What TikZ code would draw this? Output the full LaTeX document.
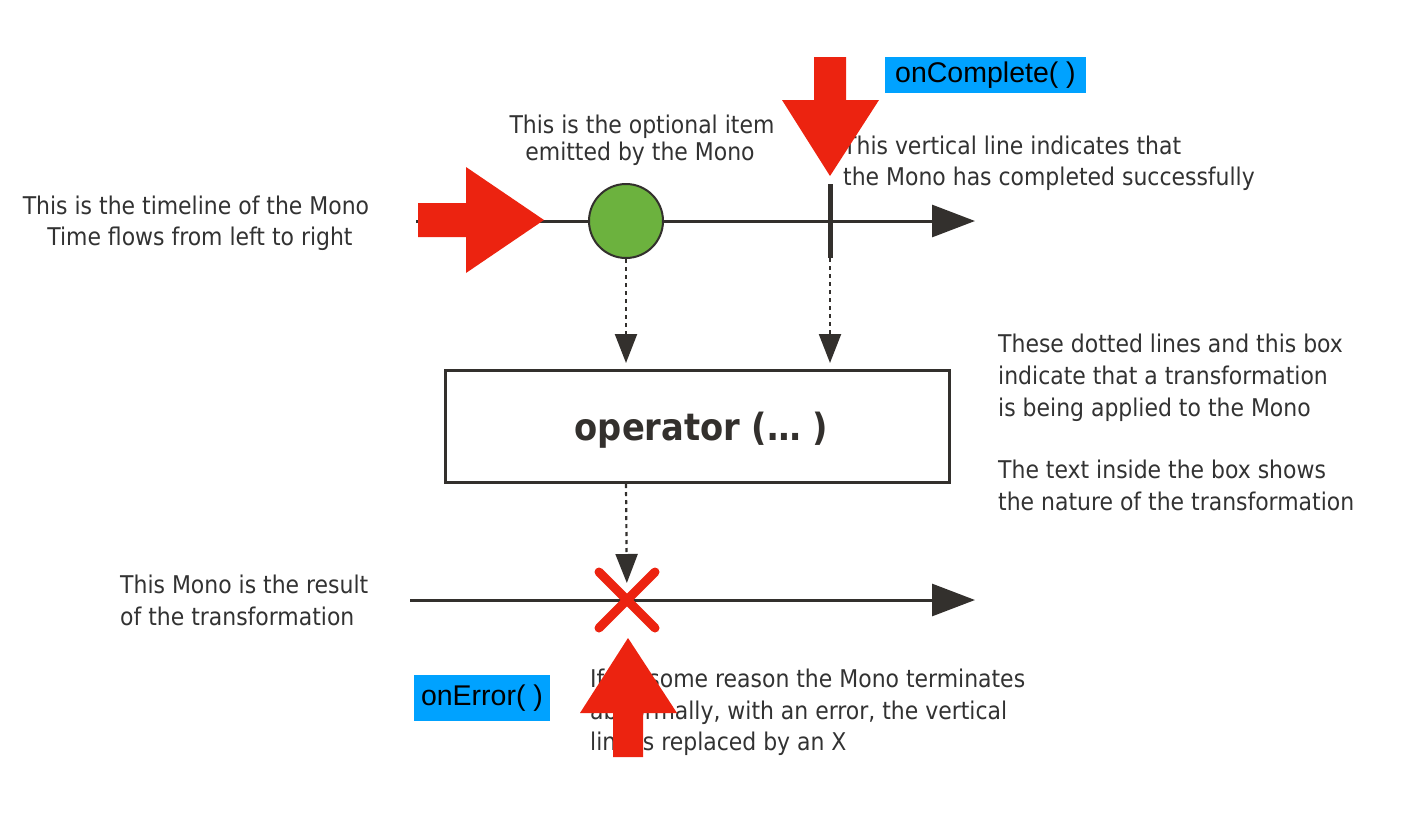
\documentclass[tikz,border=0pt]{standalone}
\usepackage{fontspec}
\usetikzlibrary{arrows.meta}
\newfontfamily\notefont{DejaVu Sans Condensed}
\newfontfamily\labelfont{Liberation Sans}
\definecolor{ink}{RGB}{50,50,50}
\definecolor{wire}{RGB}{51,48,45}
\definecolor{mark}{RGB}{236,35,16}
\definecolor{sky}{RGB}{0,162,255}
\definecolor{leaf}{RGB}{108,178,62}
\tikzset{
  note/.style={font=\notefont\fontsize{24.4}{30}\selectfont, text=ink, inner sep=0pt},
  timeline/.style={draw=wire, line width=3pt, -{Triangle[length=43pt,width=32pt]}},
  dotlink/.style={draw=wire, line width=2.2pt, dash pattern=on 4pt off 4pt,
                  -{Triangle[length=29pt,width=22pt]}},
  tag/.style={fill=sky, text=black, font=\labelfont\fontsize{28.5}{30}\selectfont, inner sep=0pt},
  pointer/.style={fill=mark},
  crossstroke/.style={draw=mark, line width=9pt, line cap=round},
}
\begin{document}
\begin{tikzpicture}[x=1pt,y=-1pt]
\useasboundingbox (0,0) rectangle (1409,833);

% explanatory notes
\node[note, anchor=base] (tl1) at (196,214) {This is the timeline of the Mono};
\node[note, anchor=base] (tl2) at (200,245) {Time flows from left to right};

\node[note, anchor=base] (it1) at (642,133) {This is the optional item};
\node[note, anchor=base] (it2) at (640,160) {emitted by the Mono};

\node[note, anchor=base west] (cp1) at (843,154) {This vertical line indicates that};
\node[note, anchor=base west] (cp2) at (843,185) {the Mono has completed successfully};

\node[note, anchor=base west] (tr1) at (998,352) {These dotted lines and this box};
\node[note, anchor=base west] (tr2) at (998,384) {indicate that a transformation};
\node[note, anchor=base west] (tr3) at (998,416) {is being applied to the Mono};
\node[note, anchor=base west] (tr4) at (998,478) {The text inside the box shows};
\node[note, anchor=base west] (tr5) at (998,510) {the nature of the transformation};

\node[note, anchor=base west] (rs1) at (120,593) {This Mono is the result};
\node[note, anchor=base west] (rs2) at (120,625) {of the transformation};

\node[note, anchor=base west] (er1) at (590,687) {If for some reason the Mono terminates};
\node[note, anchor=base west] (er2) at (590,719) {abnormally, with an error, the vertical};
\node[note, anchor=base west] (er3) at (590,750) {line is replaced by an X};

% source timeline with its item and completion bar
\coordinate (srcStart) at (416,221);
\coordinate (srcEnd) at (975,221);
\draw[timeline] (srcStart) -- (srcEnd);
\node[circle, draw=wire, line width=2pt, fill=leaf, minimum size=74pt, inner sep=0pt]
  (item) at (626,221) {};
\coordinate (doneTop) at (830,184);
\coordinate (doneBot) at (830,258);
\draw[wire, line width=5pt] (doneTop) -- (doneBot);

% operator box and its caption
\node[draw=wire, line width=3pt, minimum width=504pt, minimum height=112pt, inner sep=0pt]
  (op) at (697.5,426.5) {};
\node[font=\notefont\bfseries\fontsize{37.5}{40}\selectfont, text=wire, inner sep=0pt]
  (opText) at ([xshift=4pt,yshift=-4pt]op.center) {operator (… )};

\draw[dotlink, shorten >=6pt] (item.south) -- (item.south |- op.north);
\draw[dotlink, shorten >=6pt] (doneBot) -- (doneBot |- op.north);

% resulting timeline ending in an error
\coordinate (resStart) at (410,600);
\coordinate (resEnd) at (975,600);
\draw[timeline] (resStart) -- (resEnd);
\node[minimum size=56pt, inner sep=0pt, outer sep=0pt] (fail) at (627,600) {};
\draw[crossstroke] (fail.north west) -- (fail.south east);
\draw[crossstroke] (fail.south west) -- (fail.north east);
\draw[dotlink, shorten >=17pt] (op.south -| item) -- (fail.center);

% red pointers
\coordinate (pinL) at (544,220);
\fill[pointer] (pinL) -- ++(-78,-53) -- ++(0,36) -- ++(-48,0) -- ++(0,34)
  -- ++(48,0) -- ++(0,36) -- cycle;
\coordinate (pinT) at (830,176);
\fill[pointer] (pinT) -- ++(-48,-76) -- ++(32,0) -- ++(0,-43) -- ++(32,0)
  -- ++(0,43) -- ++(33,0) -- cycle;
\coordinate (pinB) at (628,638);
\fill[pointer] (pinB) -- ++(-48,75) -- ++(33,0) -- ++(0,44) -- ++(30,0)
  -- ++(0,-44) -- ++(34,0) -- cycle;

% event labels
\node[tag, minimum width=201pt, minimum height=36pt] (complete) at (985.5,75) {onComplete( )};
\node[tag, minimum width=136pt, minimum height=46pt] (error) at (482,698) {onError( )};
\end{tikzpicture}
\end{document}
